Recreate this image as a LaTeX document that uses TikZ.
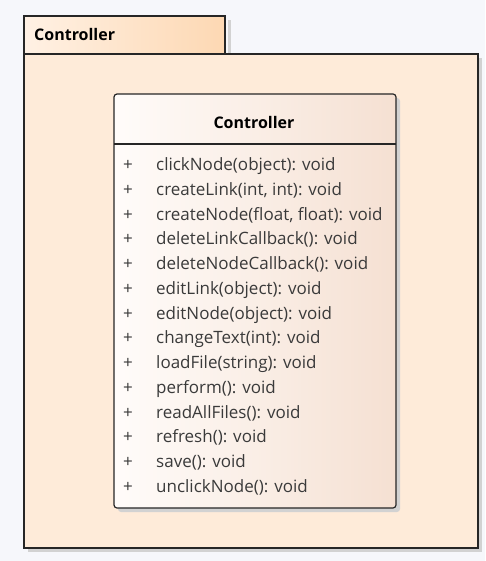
\documentclass[tikz,border=0pt]{standalone}
\usepackage{fontspec}
\setmainfont{Open Sans}
\usetikzlibrary{shadings}
\definecolor{pagebg}{HTML}{F6F7FB}
\definecolor{pkgfill}{HTML}{FEEBD9}
\definecolor{tableft}{HTML}{FFF1E4}
\definecolor{tabright}{HTML}{FDD8B3}
\definecolor{clsleft}{HTML}{FFFCFA}
\definecolor{clsright}{HTML}{F5E0D2}
\definecolor{shadowc}{HTML}{D2D2D2}
\definecolor{optext}{HTML}{3A3A3A}
\tikzset{
  outline/.style={draw=black!85, line width=1.2pt},
  optext/.style={anchor=base west, inner sep=0pt, text=optext, font=\fontsize{17}{19}\selectfont},
  vis/.style={anchor=base, inner sep=0pt, text=optext, font=\fontsize{17}{19}\selectfont},
  title/.style={inner sep=0pt, font=\fontsize{16}{18}\selectfont\bfseries},
}
\begin{document}
\begin{tikzpicture}[x=1pt,y=-1pt]
\useasboundingbox (0,0) rectangle (485,561);
\fill[pagebg] (0,0) rectangle (485,561);
% package shadows
\fill[shadowc] (228,20) rectangle (231,54);
\fill[shadowc] (28,548) rectangle (482,552);
\fill[shadowc] (478,58) rectangle (482,552);
% package tab
\shade[left color=tableft, right color=tabright] (24,16) rectangle (225,54);
\draw[outline] (24,16) rectangle (225,54);
\node[title, anchor=base west] (pkgname) at (34,40.5) {Controller};
% package body
\fill[pkgfill] (24,54) rectangle (478,548);
\draw[outline] (24,54) rectangle (478,548);
% class shadow and box
\fill[shadowc, rounded corners=3pt] (118,98) rectangle (400,512);
\shade[left color=clsleft, right color=clsright, rounded corners=3pt] (114,94) rectangle (396,508);
\draw[outline, rounded corners=3pt] (114,94) rectangle (396,508);
\draw[outline] (114,144) -- (396,144);
\node[title, anchor=base] (clsname) at (254,129) {Controller};
% operations
\foreach \op [count=\i from 0] in {
  clickNode(object): void,
  {createLink(int, int): void},
  {createNode(float, float): void},
  deleteLinkCallback(): void,
  deleteNodeCallback(): void,
  editLink(object): void,
  editNode(object): void,
  changeText(int): void,
  loadFile(string): void,
  perform(): void,
  readAllFiles(): void,
  refresh(): void,
  save(): void,
  unclickNode(): void} {
  \node[vis] (vis\i) at (128,170.5+24.77*\i) {+};
  \node[optext] (op\i) at (156,170.5+24.77*\i) {\op};
}
\end{tikzpicture}
\end{document}
